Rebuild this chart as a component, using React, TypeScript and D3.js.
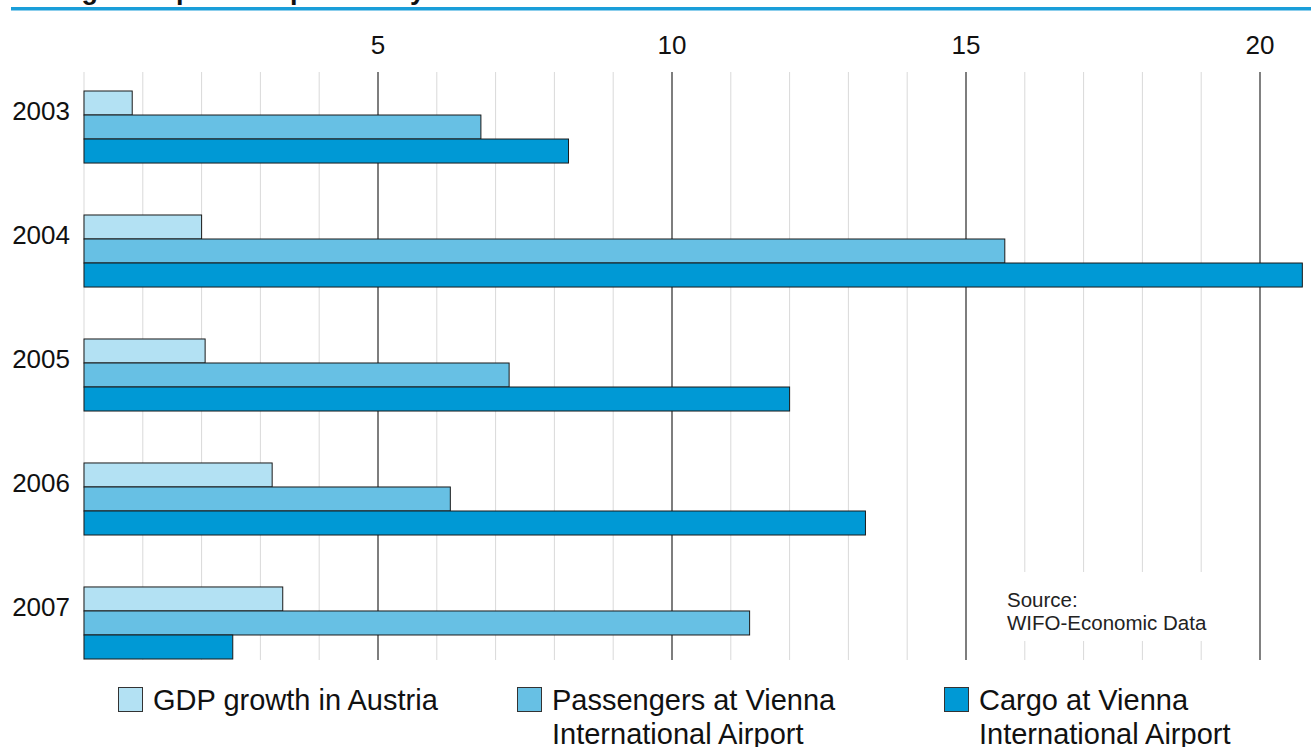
import React from 'react'
import * as d3 from 'd3'

// Chart data (percent change vs. previous year)
const years = ['2003', '2004', '2005', '2006', '2007']
const gdpGrowth = [0.82, 2.0, 2.06, 3.2, 3.38]
const passengers = [6.75, 15.66, 7.23, 6.23, 11.32]
const cargo = [8.24, 20.72, 12.0, 13.29, 2.53]

const seriesNames = ['GDP growth in Austria', 'Passengers at Vienna International Airport', 'Cargo at Vienna International Airport']
const legendLines = [['GDP growth in Austria'], ['Passengers at Vienna', 'International Airport'], ['Cargo at Vienna', 'International Airport']]
const seriesColors = ['#b3e1f3', '#67c0e4', '#0099d5']
const tickLabels = [5, 10, 15, 20]

const W = 1311
const H = 747
const FONT = '"Liberation Sans", Arial, sans-serif'
const PLOT_TOP = 72
const PLOT_BOTTOM = 660

const x = d3.scaleLinear().domain([0, 20]).range([84, 1260])
const y = d3.scaleBand().domain(years).range([91, 659]).paddingInner(0.419).paddingOuter(0)
const ySub = d3.scaleBand().domain(['0', '1', '2']).range([0, y.bandwidth()])

const values = [gdpGrowth, passengers, cargo]
const minorTicks = d3.range(0, 21)
const legendX = [118, 517, 944]

export default function App() {
  return (
    <svg width={W} height={H} style={{ position: 'absolute', left: 0, top: 0, background: '#fff' }} fontFamily={FONT}>
      {/* title, mostly cropped off the top of the picture */}
      <text x={14} y={-1} fontSize={27} fontWeight="bold" fill="#111">Change compared to previous year in %</text>
      <rect x={11} y={7} width={W - 11} height={3.5} fill="#1a9ed9" />

      {/* minor grid */}
      {minorTicks.map((t) => (
        <line key={'g' + t} x1={x(t)} x2={x(t)} y1={PLOT_TOP} y2={PLOT_BOTTOM} stroke="#d9d9d9" strokeWidth={1} />
      ))}

      {/* white box behind the source note */}
      <rect x={x(15) + 4} y={572} width={x(20) - x(15) - 8} height={69} fill="#fff" />
      <text x={1007} y={607} fontSize={20.5} fill="#222">Source:</text>
      <text x={1007} y={630} fontSize={20.5} fill="#222">WIFO-Economic Data</text>

      {/* major grid */}
      {tickLabels.map((t) => (
        <line key={'m' + t} x1={x(t)} x2={x(t)} y1={PLOT_TOP} y2={PLOT_BOTTOM}
          stroke={t === 20 ? '#666' : '#111'} strokeWidth={t === 20 ? 1.6 : 1} />
      ))}
      {tickLabels.map((t) => (
        <text key={'t' + t} x={x(t)} y={54} fontSize={26} textAnchor="middle" fill="#111">{t}</text>
      ))}

      {/* bars */}
      {years.map((yr, i) => (
        <g key={yr}>
          {values.map((vals, s) => (
            <rect key={s} x={x(0)} y={(y(yr) as number) + (ySub(String(s)) as number)}
              width={x(vals[i]) - x(0)} height={ySub.bandwidth()}
              fill={seriesColors[s]} stroke="#1a1a1a" strokeWidth={1} />
          ))}
          <text x={70} y={(y(yr) as number) + 29} fontSize={26} textAnchor="end" fill="#111">{yr}</text>
        </g>
      ))}

      {/* legend */}
      {seriesNames.map((name, s) => (
        <g key={name}>
          <rect x={legendX[s] + 0.5} y={687.5} width={24} height={24} fill={seriesColors[s]} stroke="#333" strokeWidth={1} />
          {legendLines[s].map((ln, j) => (
            <text key={j} x={legendX[s] + 35} y={710 + j * 34} fontSize={29} fill="#111">{ln}</text>
          ))}
        </g>
      ))}
    </svg>
  )
}
